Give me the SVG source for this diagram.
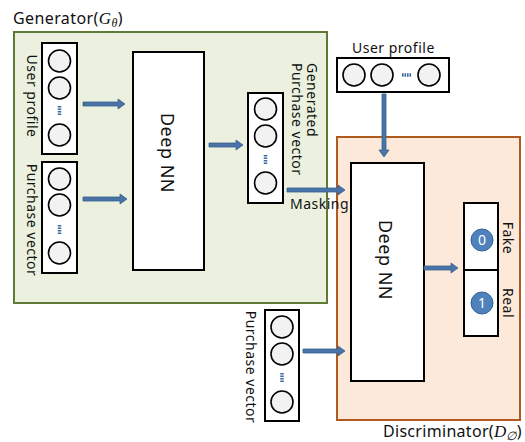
<svg xmlns="http://www.w3.org/2000/svg" width="525" height="442" viewBox="0 0 525 442">
<style>
text{font-family:"Noto Sans","Liberation Sans",sans-serif;fill:#111}
.lbl{font-size:14px;letter-spacing:0.5px}
.nn{font-size:18px;letter-spacing:0.5px}
.vec{fill:#fff;stroke:#000;stroke-width:2}
.c{fill:#f2f2f2;stroke:#000;stroke-width:1.6}
.dot{stroke:#3d6aa0;stroke-width:3.5;stroke-dasharray:1.6,0.9}
.arr{fill:#4a74a8;stroke:#365f8f;stroke-width:0.8}
.box{fill:#fff;stroke:#000;stroke-width:2}
.math{font-family:"Liberation Serif",serif;font-style:italic}
</style>
<g id="generator">
<rect x="14" y="32" width="313" height="271" fill="#ebf1de" stroke="#5f7a35" stroke-width="2"/>
<text x="13" y="24" style="font-size:16px;letter-spacing:0.4px">Generator(<tspan class="math" style="font-size:17px">G</tspan><tspan class="math" style="font-size:12px" dy="3">θ</tspan><tspan dy="-3">)</tspan></text>
</g>
<g id="discriminator">
<rect x="337" y="137" width="183" height="283" fill="#fde9d9" stroke="#b05a20" stroke-width="2"/>
<text x="383" y="437" style="font-size:16px;letter-spacing:0.3px">Discriminator(<tspan class="math" style="font-size:17px">D</tspan><tspan class="math" style="font-size:12px" dy="3">∅</tspan><tspan dy="-3">)</tspan></text>
</g>
<g id="gen-user-profile">
<rect class="vec" x="42" y="43" width="35" height="111"/>
<circle class="c" cx="59.5" cy="61" r="11"/>
<circle class="c" cx="59.5" cy="88" r="11"/>
<line class="dot" x1="59.5" y1="106" x2="59.5" y2="116"/>
<circle class="c" cx="59.5" cy="135" r="11"/>
<text class="lbl" transform="translate(32,96) rotate(90)" text-anchor="middle" dy="0.35em">User profile</text>
</g>
<g id="gen-purchase-vector">
<rect class="vec" x="42" y="162" width="35" height="111"/>
<circle class="c" cx="59.5" cy="179" r="11"/>
<circle class="c" cx="59.5" cy="205" r="11"/>
<line class="dot" x1="59.5" y1="225" x2="59.5" y2="235"/>
<circle class="c" cx="59.5" cy="253" r="11"/>
<text class="lbl" transform="translate(32,220) rotate(90)" text-anchor="middle" dy="0.35em">Purchase vector</text>
</g>
<g id="gen-deep-nn">
<rect class="box" x="133" y="52" width="71" height="218"/>
<text class="nn" transform="translate(167,153) rotate(90)" text-anchor="middle" dy="0.35em">Deep NN</text>
</g>
<g id="generated-vector">
<rect class="vec" x="248" y="93" width="35" height="110"/>
<circle class="c" cx="265.5" cy="109" r="11"/>
<circle class="c" cx="265.5" cy="136" r="11"/>
<line class="dot" x1="265.5" y1="155" x2="265.5" y2="165"/>
<circle class="c" cx="265.5" cy="183" r="11"/>
<text class="lbl" transform="translate(312,63) rotate(90)" dy="0.35em">Generated</text>
<text class="lbl" transform="translate(297,63) rotate(90)" dy="0.35em">Purchase vector</text>
</g>
<g id="disc-user-profile">
<text class="lbl" x="352" y="53">User profile</text>
<rect class="vec" x="337" y="58" width="112" height="34"/>
<circle class="c" cx="354" cy="75" r="11"/>
<circle class="c" cx="382" cy="75" r="11"/>
<line class="dot" x1="402" y1="75" x2="412" y2="75"/>
<circle class="c" cx="429" cy="75" r="11"/>
</g>
<g id="disc-deep-nn">
<rect class="box" x="351" y="163" width="73" height="218"/>
<text class="nn" transform="translate(385,260) rotate(90)" text-anchor="middle" dy="0.35em">Deep NN</text>
</g>
<g id="output">
<rect class="box" x="464" y="203" width="34" height="133"/>
<line x1="464" y1="270" x2="498" y2="270" stroke="#000" stroke-width="2"/>
<circle cx="482" cy="240" r="11" fill="#4f81bd" stroke="#3a6291" stroke-width="1"/>
<text x="482" y="240" dy="0.36em" text-anchor="middle" style="font-size:14px;fill:#fff">0</text>
<circle cx="482" cy="303" r="11" fill="#4f81bd" stroke="#3a6291" stroke-width="1"/>
<text x="482" y="303" dy="0.36em" text-anchor="middle" style="font-size:14px;fill:#fff">1</text>
<text class="lbl" transform="translate(508,238) rotate(90)" text-anchor="middle" dy="0.35em">Fake</text>
<text class="lbl" transform="translate(508,303) rotate(90)" text-anchor="middle" dy="0.35em">Real</text>
</g>
<g id="disc-purchase-vector">
<rect class="vec" x="265" y="310" width="34" height="111"/>
<circle class="c" cx="282" cy="327" r="11"/>
<circle class="c" cx="282" cy="354" r="11"/>
<line class="dot" x1="282" y1="373" x2="282" y2="383"/>
<circle class="c" cx="282" cy="402" r="11"/>
<text class="lbl" transform="translate(251,367) rotate(90)" text-anchor="middle" dy="0.35em">Purchase vector</text>
</g>
<g id="connectors">
<polygon class="arr" points="83,102 118,102 118,99 125,104 118,109 118,106 83,106"/>
<polygon class="arr" points="83,197 120,197 120,194 127,199 120,204 120,201 83,201"/>
<polygon class="arr" points="209,143 236,143 236,140 243,145 236,150 236,147 209,147"/>
<polygon class="arr" points="287,188 338,188 338,185 345,190 338,195 338,192 287,192"/>
<polygon class="arr" points="382,94 382,150 379,150 384,157 389,150 386,150 386,94"/>
<polygon class="arr" points="424,266 451,266 451,263 458,268 451,273 451,270 424,270"/>
<polygon class="arr" points="303,349 338,349 338,346 345,351 338,356 338,353 303,353"/>
<text class="lbl" x="290" y="209">Masking</text>
</g>
</svg>
